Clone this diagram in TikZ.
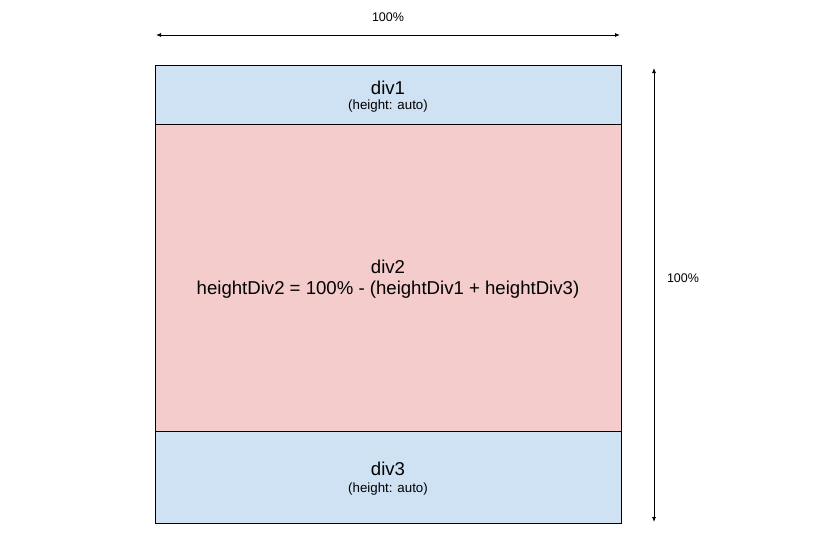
\documentclass[tikz,border=0pt]{standalone}
\usepackage{fontspec}
\setmainfont{Liberation Sans}
\usetikzlibrary{arrows.meta}
\definecolor{divblue}{HTML}{CFE2F3}
\definecolor{divpink}{HTML}{F4CCCC}
\begin{document}
\begin{tikzpicture}[x=1pt,y=-1pt,
  box/.style={draw=black,line width=0.9pt},
  dim/.style={draw=black,line width=0.8pt,{Latex[length=5pt,width=4pt]}-{Latex[length=5pt,width=4pt]}},
  big/.style={font=\fontsize{18.6}{20}\selectfont,align=center,inner sep=0pt},
  small/.style={font=\fontsize{13.3}{15}\selectfont,inner sep=0pt},
  lab/.style={font=\fontsize{12.5}{14}\selectfont,inner sep=0pt}]
\fill[white] (0,0) rectangle (840,555);
\useasboundingbox (0,0) rectangle (840,555);
% boxes
\filldraw[box,fill=divblue] (155,65) rectangle (621,124);
\filldraw[box,fill=divpink] (155,124) rectangle (621,431);
\filldraw[box,fill=divblue] (155,431) rectangle (621,523);
% texts
\node[big] (d1) at (388,88) {div1};
\node[small] (d1s) at (388,106) {(height: auto)};
\node[big] (d2) at (388,267) {div2};
\node[big] (d2s) at (388,290) {heightDiv2 = 100\% - (heightDiv1 + heightDiv3)};
\node[big] (d3) at (388,469) {div3};
\node[small] (d3s) at (388,489) {(height: auto)};
% dimension arrows
\coordinate (tl) at (156,35);
\coordinate (tr) at (620,35);
\draw[dim] (tl) -- (tr);
\node[lab] (tlab) at (388,17) {100\%};
\coordinate (rt) at (654,68);
\coordinate (rb) at (654,522);
\draw[dim] (rt) -- (rb);
\node[lab] (rlab) at (683,278) {100\%};
\end{tikzpicture}
\end{document}
